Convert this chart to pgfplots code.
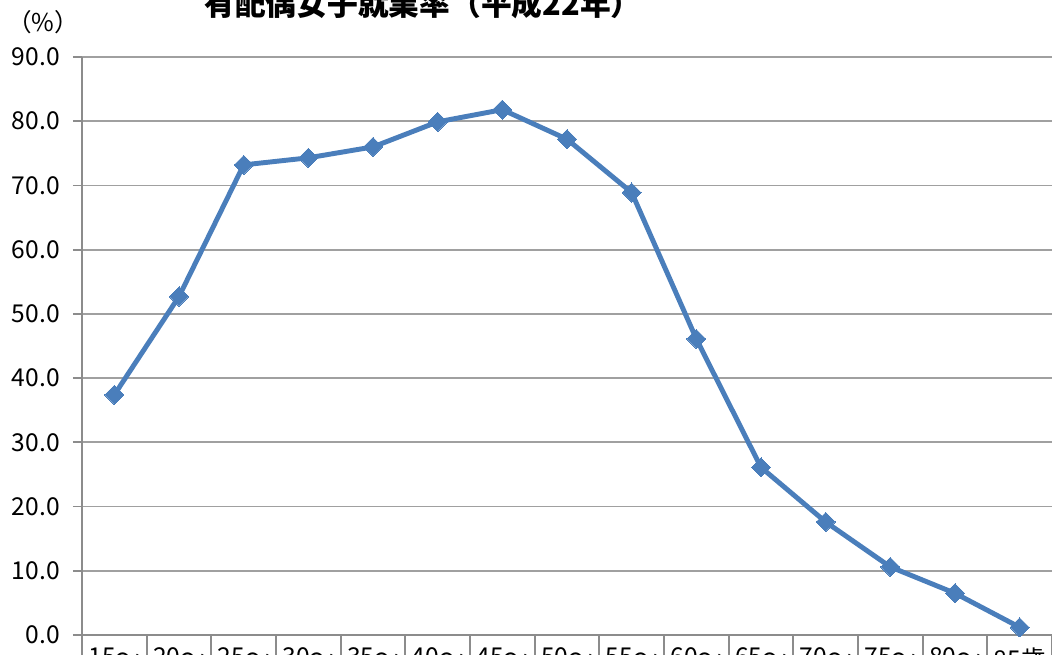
\documentclass[border=0pt]{standalone}
\usepackage{fontspec}
\usepackage{pgfplots}
\pgfplotsset{compat=1.18}
\setmainfont{Noto Sans CJK JP}
\definecolor{lineblue}{HTML}{4A7EBB}
\definecolor{gridgray}{HTML}{A0A0A0}
\definecolor{axisgray}{HTML}{8C8C8C}
\begin{document}
\begin{tikzpicture}
\begin{axis}[
  scale only axis, width=19.4cm, height=11.56cm,
  xmin=-0.5, xmax=14.5, ymin=0, ymax=90,
  axis lines*=left,
  axis line style={axisgray, line width=1pt},
  ytick={0,10,...,90},
  y tick label style={/pgf/number format/fixed, /pgf/number format/fixed zerofill, /pgf/number format/precision=1, /pgf/number format/assume math mode=true, font=\fontsize{14}{16}\selectfont, text=black, xshift=-0.14cm},
  tick align=outside, major tick length=0.18cm,
  tick style={axisgray, line width=1pt},
  ymajorgrids, grid style={gridgray, line width=1pt},
  xtick={0,...,14},
  x tick style={draw=none},
  xticklabels={15～\\19歳,20～\\24歳,25～\\29歳,30～\\34歳,35～\\39歳,40～\\44歳,45～\\49歳,50～\\54歳,55～\\59歳,60～\\64歳,65～\\69歳,70～\\74歳,75～\\79歳,80～\\84歳,85歳\\以上},
  xticklabel style={font=\fontsize{14}{16}\selectfont, align=center, anchor=north, yshift=0.05cm},
  clip=false,
]
\addplot[lineblue, line width=2.8pt, mark=square*, mark size=0.135cm, mark options={rotate=45, fill=lineblue, draw=lineblue, line width=0pt}]
 coordinates {(0,37.4) (1,52.7) (2,73.2) (3,74.3) (4,76.0) (5,79.9) (6,81.8) (7,77.2) (8,68.9) (9,46.1) (10,26.1) (11,17.6) (12,10.6) (13,6.5) (14,1.2)};
\pgfplotsinvokeforeach{-0.5,0.5,...,14.5}{
  \draw[axisgray, line width=1pt] (axis cs:#1,0) -- ([yshift=-1.5cm]axis cs:#1,0);
}
\coordinate (sw) at (rel axis cs:0,0);
\coordinate (ne) at (rel axis cs:1,1);
\coordinate (nw) at (rel axis cs:0,1);
\end{axis}
\node[font=\fontsize{17.5}{19}\selectfont\bfseries, anchor=base] at ([shift={(6.82cm,0.82cm)}]nw) {有配偶女子就業率（平成22年）};
\node[font=\fontsize{14}{16}\selectfont] at ([shift={(-0.78cm,0.70cm)}]nw) {（\%）};
\pgfresetboundingbox
\path[use as bounding box] ([shift={(-1.64cm,-0.4cm)}]sw) rectangle ([shift={(0cm,1.14cm)}]ne);
\end{tikzpicture}
\end{document}
